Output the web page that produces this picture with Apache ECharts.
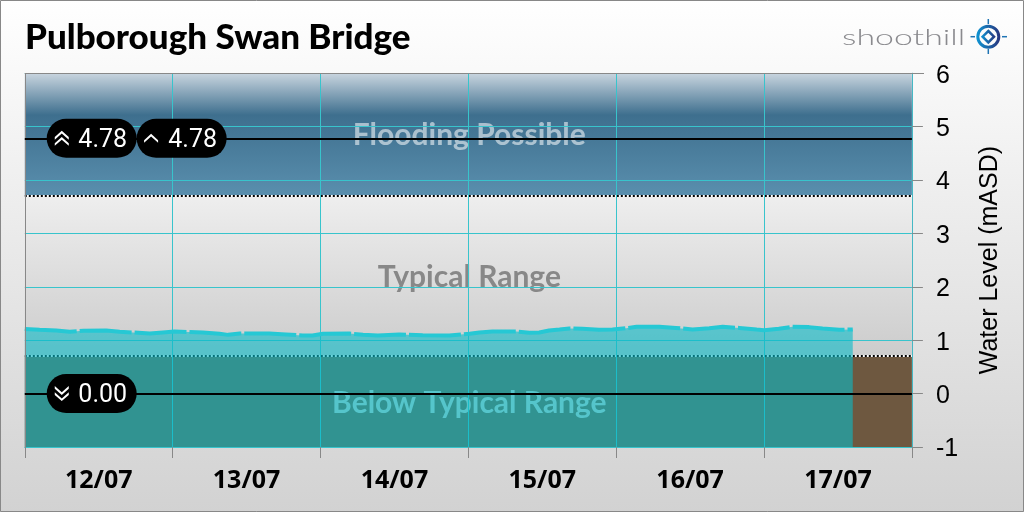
<!DOCTYPE html>
<html><head><meta charset="utf-8">
<style>html,body{margin:0;padding:0;background:#fff}#c{width:1024px;height:512px}</style>
<script src="https://cdn.jsdelivr.net/npm/echarts@6/dist/echarts.min.js"></script>
</head><body><div id="c"></div>
<script>
const stationName = 'Pulborough Swan Bridge';
const dayLabels = ['12/07','13/07','14/07','15/07','16/07','17/07'];
const hours = [0,2.4,5.1,7.3,9.5,13.2,15.4,17.5,20.3,22.4,24.3,28.9,31.6,33,34.9,39.7,42.4,45.1,46.7,48.4,52.7,54.9,57.3,60.8,64.6,68.9,72.2,73.8,75.9,79.8,81.9,83.5,85.1,86.8,88.4,90.5,93.2,95.4,97.6,99.3,103,105.7,108.4,111.1,113.3,116,118.8,120,122.4,124.6,127.3,129.5,132.2,134.4];
const levels = [1.21,1.195,1.18,1.157,1.176,1.18,1.16,1.145,1.125,1.145,1.163,1.145,1.12,1.10,1.125,1.125,1.107,1.088,1.088,1.12,1.125,1.10,1.088,1.105,1.095,1.088,1.12,1.145,1.163,1.163,1.138,1.145,1.18,1.2,1.22,1.213,1.195,1.2,1.225,1.25,1.25,1.23,1.2,1.225,1.25,1.23,1.2,1.188,1.213,1.25,1.245,1.22,1.195,1.2];
const yMin = -1, yMax = 6;
const typicalLow = 0.7, typicalHigh = 3.7;
const thresholds = [4.78, 0];
const pillHours = [10.86, 25.46, 10.86];
const pillValues = [4.78, 4.78, 0];
const pillKinds = ['up2','up1','down2'];
const chevHours = [6.0, 20.5, 6.0];

const LG = (stops) => new echarts.graphic.LinearGradient(0,0,0,1,stops.map((c)=>({offset:c[0],color:c[1]})));
const pillPath = 'path://M19.5 0H70.5A19.5 19.5 0 0 1 70.5 39H19.5A19.5 19.5 0 0 1 19.5 0Z';
const chevPaths = {
  up2:'path://M0 6L6 0L12 6L12 8.5L6 2.5L0 8.5ZM0 12L6 6L12 12L12 14.5L6 8.5L0 14.5Z',
  up1:'path://M0 6L6 0L12 6L12 8.5L6 2.5L0 8.5Z',
  down2:'path://M0 0L6 6L12 0L12 2.5L6 8.5L0 2.5ZM0 6L6 12L12 6L12 8.5L6 14.5L0 8.5Z'
};
const sizeOf = {up2:[14,15],up1:[14,9],down2:[14,15]};
const zoneLabel = (color,dy)=>({show:true,position:'inside',offset:[1,dy],formatter:'{b}',color,fontFamily:'Lato',fontWeight:'bold',fontSize:30});
const gridColor = '#38c4cc';

const chart = echarts.init(document.getElementById('c'),null,{renderer:'canvas'});
chart.setOption({
  animation:false,
  backgroundColor:LG([[0,'#ffffff'],[1,'#d2d2d2']]),
  title:{text:stationName,left:20,top:15,textStyle:{fontFamily:'Lato',fontWeight:900,fontSize:35,color:'#000'}},
  grid:{left:24.8,right:112.1,top:73.2,bottom:65,containLabel:false},
  xAxis:[
    {type:'category',data:dayLabels,position:'bottom',boundaryGap:true,z:3,
     axisLine:{show:true,onZero:false,lineStyle:{color:gridColor,width:1}},
     axisTick:{show:true,alignWithLabel:false,length:11,lineStyle:{color:'#888'}},
     splitLine:{show:true,lineStyle:{color:gridColor,width:1}},
     axisLabel:{color:'#000',fontFamily:'Open Sans',fontWeight:'bold',fontSize:25,margin:21}},
    {type:'value',min:0,max:144,interval:24,show:false}
  ],
  yAxis:[
    {type:'value',min:yMin,max:yMax,interval:1,position:'right',z:3,
     name:'Water Level (mASD)',nameLocation:'middle',nameRotate:90,nameGap:66,
     nameTextStyle:{color:'#000',fontFamily:'Liberation Sans',fontSize:25},
     axisLine:{show:true,onZero:false,lineStyle:{color:'#45b8c4',width:1}},
     axisTick:{show:true,length:11,lineStyle:{color:'#888'}},
     splitLine:{show:true,lineStyle:{color:gridColor,width:1}},
     axisLabel:{margin:24,align:'left',formatter:'{n|{value}}',
       rich:{n:{color:'#000',fontFamily:'Liberation Sans',fontSize:25,padding:[5,0,0,0]}}}}
  ],
  series:[
    {type:'line',name:'zones',xAxisIndex:1,yAxisIndex:0,data:[],z:1,silent:true,
     markArea:{silent:true,z:1,data:[
       [{name:'Flooding Possible',yAxis:typicalHigh,itemStyle:{color:LG([[0,'#c9d5df'],[0.34,'#3e6f8e'],[1,'#5a8fae']]),opacity:1},label:zoneLabel('rgba(255,255,255,0.55)',1)},{yAxis:yMax}],
       [{name:'Typical Range',yAxis:typicalLow,itemStyle:{color:LG([[0,'#eeeeee'],[1,'#cccccc']]),opacity:1},label:zoneLabel('#888888',1)},{yAxis:typicalHigh}],
       [{name:'Below Typical Range',yAxis:yMin,itemStyle:{color:'#6e5840',opacity:1},label:zoneLabel('#c8d4d0',2)},{yAxis:typicalLow}]
     ]}},
    {type:'line',name:'bands-white',xAxisIndex:1,yAxisIndex:0,data:[],z:1.5,silent:true,
     markLine:{silent:true,symbol:'none',z:1.5,label:{show:false},lineStyle:{color:'#fff',width:2,type:'solid'},data:[{yAxis:typicalHigh},{yAxis:typicalLow}]}},
    {type:'line',name:'bands',xAxisIndex:1,yAxisIndex:0,data:[],z:1.6,silent:true,
     markLine:{silent:true,symbol:'none',z:1.6,label:{show:false},lineStyle:{color:'#000',width:2,type:[2,2]},data:[{yAxis:typicalHigh},{yAxis:typicalLow}]}},
    {type:'line',name:'level',xAxisIndex:1,yAxisIndex:0,z:4,silent:true,showSymbol:false,smooth:false,
     data:hours.map((h,i)=>[h,levels[i]]),
     lineStyle:{color:'#26c8d4',width:4,type:[52,3]},
     areaStyle:{color:'rgb(8,187,200)',opacity:0.6,origin:'start'}},
    {type:'line',name:'frame',xAxisIndex:1,yAxisIndex:0,data:[],z:4.5,silent:true,
     markLine:{silent:true,symbol:'none',z:4.5,label:{show:false},lineStyle:{color:'#888',width:1,type:'solid'},data:[{xAxis:0},{yAxis:yMax}]}},
    {type:'line',name:'thresholds',xAxisIndex:1,yAxisIndex:0,data:[],z:5,silent:true,
     markLine:{silent:true,symbol:'none',z:5,label:{show:false},lineStyle:{color:'#000',width:2,type:'solid'},data:thresholds.map(v=>({yAxis:v}))}},
    {type:'scatter',name:'pills',xAxisIndex:1,yAxisIndex:0,z:6,silent:true,
     symbol:pillPath,symbolSize:[90,39],
     data:pillHours.map((h,i)=>[h,pillValues[i]]),
     label:{show:true,position:'inside',offset:[11,2],color:'#fff',fontFamily:'Roboto',fontSize:25,
       formatter:p=>p.value[1].toFixed(2)},
     itemStyle:{color:'#000',opacity:1}},
    {type:'scatter',name:'chevrons',xAxisIndex:1,yAxisIndex:0,z:7,silent:true,
     data:chevHours.map((h,i)=>({value:[h,pillValues[i]],symbol:chevPaths[pillKinds[i]],symbolSize:sizeOf[pillKinds[i]]})),
     itemStyle:{color:'#fff',opacity:1}}
  ],
  graphic:[
    {type:'rect',shape:{x:0.5,y:0.5,width:1023,height:511},style:{fill:null,stroke:'#888',lineWidth:1},z:100,silent:true},
    {type:'line',shape:{x1:913,y1:73.5,x2:924,y2:73.5},style:{stroke:'#888',lineWidth:1},silent:true},
    {type:'text',x:842,y:27,scaleX:1.54,style:{text:'shoothill',fontFamily:'Lato',fontWeight:300,fontSize:22,fill:'#8a8a8e',letterSpacing:0.8},silent:true},
    {type:'circle',shape:{cx:988.3,cy:36.7,r:10.5},style:{fill:null,stroke:new echarts.graphic.LinearGradient(0,0,1,0,[{offset:0,color:'#0d9ad8'},{offset:1,color:'#2a2f78'}]),lineWidth:3},silent:true},
    {type:'polygon',shape:{points:[[988.3,31],[994,36.7],[988.3,42.4],[982.6,36.7]]},style:{fill:null,stroke:new echarts.graphic.LinearGradient(0,0,1,0,[{offset:0,color:'#0d9ad8'},{offset:1,color:'#2a2f78'}]),lineWidth:2.5},silent:true},
    {type:'line',shape:{x1:988.3,y1:19,x2:988.3,y2:24},style:{stroke:'#1f74b4',lineWidth:1.5},silent:true},
    {type:'line',shape:{x1:988.3,y1:49,x2:988.3,y2:54},style:{stroke:'#1f74b4',lineWidth:1.5},silent:true},
    {type:'line',shape:{x1:970.5,y1:36.7,x2:975,y2:36.7},style:{stroke:'#1f74b4',lineWidth:1.5},silent:true},
    {type:'line',shape:{x1:1002,y1:36.7,x2:1007,y2:36.7},style:{stroke:'#1f74b4',lineWidth:1.5},silent:true}
  ]
});
</script></body></html>
